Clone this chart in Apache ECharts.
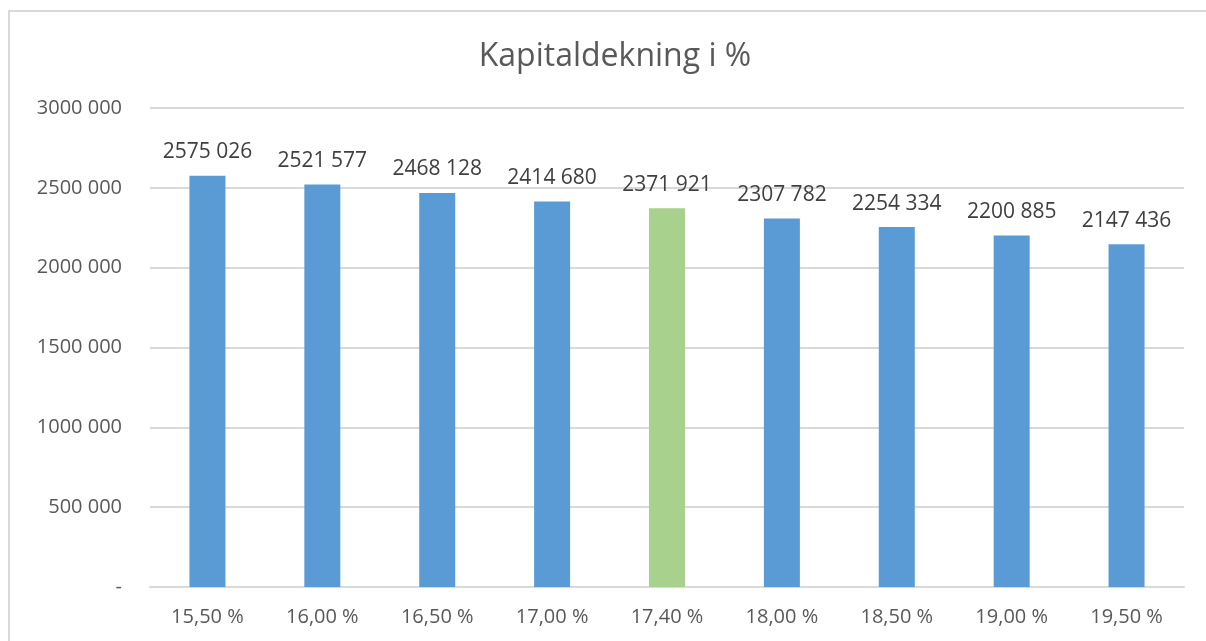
<!DOCTYPE html>
<html>
<head>
<meta charset="utf-8">
<script src="https://cdn.jsdelivr.net/npm/echarts@6/dist/echarts.min.js"></script>
<style>
  html, body { margin: 0; padding: 0; background: #fff; }
  #frame { position: absolute; left: 8px; top: 10px; width: 1200px; height: 640px; border: 2px solid #d9d9d9; box-sizing: border-box; }
  #chart { position: absolute; left: 0; top: 0; width: 1206px; height: 641px; }
</style>
</head>
<body>
<div id="frame"></div>
<div id="chart"></div>
<script>
const categories = ['15,50 %', '16,00 %', '16,50 %', '17,00 %', '17,40 %', '18,00 %', '18,50 %', '19,00 %', '19,50 %'];
const values = [2575026, 2521577, 2468128, 2414680, 2371921, 2307782, 2254334, 2200885, 2147436];
const highlightIndex = 4;

const blue = '#5B9BD5';
const green = '#A9D18E';

const fmt = (v) => {
  if (v === 0) return '-';
  const thousands = Math.floor(v / 1000);
  const rest = String(v % 1000).padStart(3, '0');
  return thousands + ' ' + rest;
};

const myChart = echarts.init(document.getElementById('chart'));
const option = {
  animation: false,
  title: {
    text: 'Kapitaldekning i %',
    left: 610,
    top: 36,
    textAlign: 'center',
    textStyle: {
      fontFamily: 'Open Sans',
      fontSize: 32,
      fontWeight: 'normal',
      color: '#595959',
    },
  },
  grid: {
    left: 150,
    right: 22,
    top: 108,
    bottom: 54,
    containLabel: false,
  },
  xAxis: {
    type: 'category',
    data: categories,
    axisTick: { show: false },
    axisLine: { lineStyle: { color: '#d9d9d9', width: 2 } },
    axisLabel: {
      color: '#595959',
      fontFamily: 'Open Sans',
      fontSize: 20,
      margin: 20,
    },
  },
  yAxis: {
    type: 'value',
    min: 0,
    max: 3000000,
    interval: 500000,
    axisLine: { show: false },
    axisTick: { show: false },
    splitLine: { lineStyle: { color: '#d9d9d9', width: 2 } },
    axisLabel: {
      color: '#595959',
      fontFamily: 'Open Sans',
      fontSize: 20,
      margin: 28,
      formatter: fmt,
    },
  },
  series: [
    {
      type: 'bar',
      barWidth: 36,
      data: values.map((v, i) => ({
        value: v,
        itemStyle: { color: i === highlightIndex ? green : blue },
      })),
      label: {
        show: true,
        position: 'top',
        distance: 13,
        color: '#404040',
        fontFamily: 'Open Sans',
        fontSize: 21,
        formatter: (p) => fmt(p.value),
      },
    },
  ],
};
myChart.setOption(option);
</script>
</body>
</html>
